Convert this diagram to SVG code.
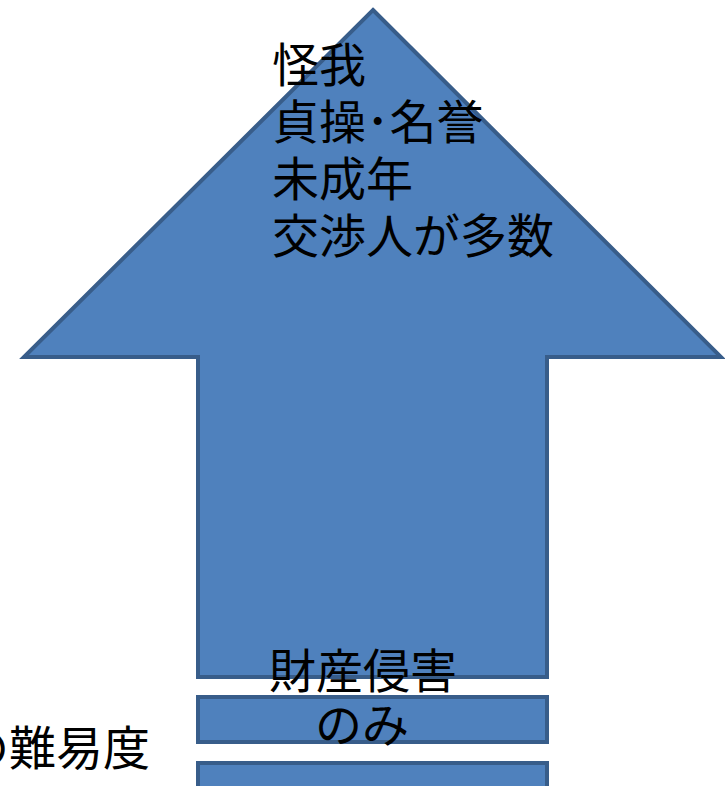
<svg xmlns="http://www.w3.org/2000/svg" width="725" height="786" viewBox="0 0 725 786">
<style>
.shape{fill:#4f81bd;stroke:#385d8a;stroke-width:4}
.t{font-family:"Noto Sans CJK JP","Noto Sans CJK SC",sans-serif;font-size:47px;fill:#000}
</style>
<rect width="725" height="786" fill="#fff"/>
<g id="arrow">
<polygon class="shape" points="373,10 721,357 547,357 547,677 198,677 198,357 24,357"/>
<text class="t" x="272" y="82">怪我</text>
<text class="t" x="272" y="139">貞操･名誉</text>
<text class="t" x="272" y="196">未成年</text>
<text class="t" x="272" y="253">交渉人が多数</text>
</g>
<g id="bar1">
<rect class="shape" x="198" y="697" width="349" height="45"/>
</g>
<g id="bar2">
<rect class="shape" x="198" y="763" width="349" height="30"/>
</g>
<g id="label-bottom">
<text class="t" x="363" y="688" text-anchor="middle">財産侵害</text>
<text class="t" x="362" y="742" text-anchor="middle">のみ</text>
</g>
<g id="label-left">
<text class="t" x="150" y="765" text-anchor="end">の難易度</text>
</g>
<g id="connectors"/>
</svg>
